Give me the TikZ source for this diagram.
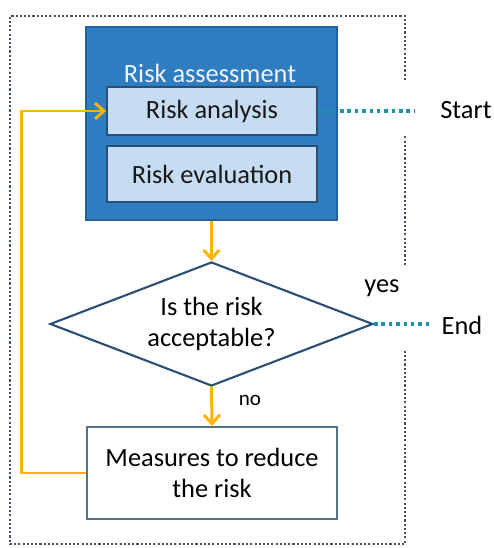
\documentclass[tikz,border=0pt]{standalone}
\usepackage{fontspec}
\setmainfont{Carlito}
\usetikzlibrary{arrows.meta,shapes.geometric}
\definecolor{bluscuro}{HTML}{2F7DC1}
\definecolor{bordoblu}{HTML}{2262A0}
\definecolor{azzurro}{HTML}{C6DCF2}
\definecolor{ardesia}{HTML}{2B4F73}
\definecolor{arancio}{HTML}{FFB300}
\definecolor{cornice}{HTML}{44536A}
\definecolor{ottanio}{HTML}{1C93A8}
\tikzset{
>={Straight Barb[length=5pt,width=9pt]},
blocco/.style={rectangle,draw=ardesia,line width=1pt,fill=azzurro,minimum width=4.2cm,text=black!90},
freccia/.style={->,draw=arancio,line width=1.7pt},
puntini/.style={draw=ottanio,line width=2pt,dash pattern=on 2pt off 2.2pt},
rombo/.style={diamond,draw=ardesia,line width=1.2pt,aspect=2.6,minimum width=6.46cm,minimum height=2.48cm,inner sep=1pt,align=center}}

\begin{document}
\begin{tikzpicture}[font=\fontsize{15}{18}\selectfont]
\useasboundingbox (0,0) rectangle (9.88,10.96);

% cornice tratteggiata
\draw[cornice,line width=1.3pt,dash pattern=on 1.2pt off 1.2pt]
  (8.1,9.36) -- (8.1,10.64) -- (0.2,10.64) -- (0.2,0.08) -- (8.1,0.08) -- (8.1,3.96)
  (8.1,5.66) -- (8.1,8.26);

\node[rectangle,draw=bordoblu,line width=1.2pt,fill=bluscuro,minimum width=5.02cm,minimum height=3.86cm] (assess) at (4.23,8.49) {};
\node[text=blue!5!white] (titolo) at (4.2,9.5) {Risk assessment};
\node[blocco,minimum height=0.96cm] (analysis) at (4.24,8.74) {Risk analysis};
\node[blocco,minimum height=1.12cm] (evaluation) at (4.24,7.48) {Risk evaluation};

\node[rombo] (check) at (4.23,4.48) {Is the risk\\acceptable?};
\node[rectangle,draw=ardesia!80!white,line width=1.2pt,minimum width=5cm,minimum height=1.84cm,align=center] (measures) at (4.24,1.5) {Measures to reduce\\the risk};

\coordinate (inizio) at (8.3,8.74);
\coordinate (fine) at (8.66,4.48);
\node (start) at (9.32,8.76) {Start};
\node (end) at (9.24,4.46) {End};
\node (yes) at (7.64,5.2) {yes};
\node[font=\fontsize{12}{14}\selectfont] (no) at (5.0,2.96) {no};

\draw[puntini] (analysis.east) -- (inizio);
\draw[puntini] (check.east) -- (fine);

\draw[freccia] (assess.south) -- (check.north);
\draw[freccia] (check.south) -- (measures.north);
\draw[freccia] (measures.west) -- ++(-1.28,0) |- (analysis.west);

\end{tikzpicture}
\end{document}
